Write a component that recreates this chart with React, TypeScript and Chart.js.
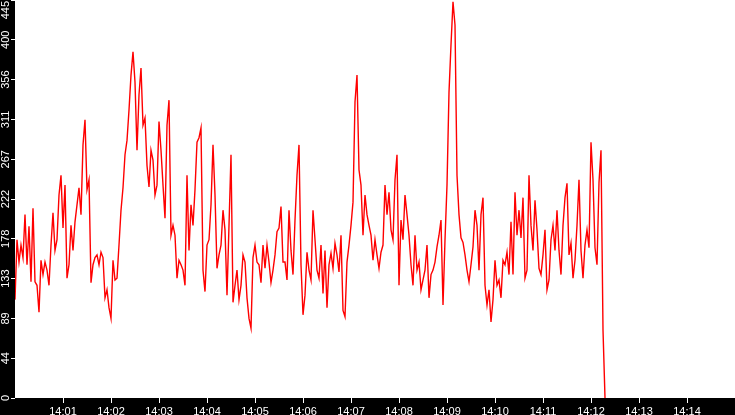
import React, { useEffect, useRef } from "react";
import { Chart, registerables } from "chart.js";

Chart.register(...registerables);

// Values sampled every 2.5 s starting at 14:00:00, one array per minute
const min00 = [110, 177, 152, 171, 157, 205, 149, 192, 130, 212, 130, 126, 96, 154, 138, 152, 143, 126, 171, 207, 165, 177, 227, 249];
const min01 = [190, 238, 134, 149, 193, 165, 197, 216, 235, 205, 283, 311, 233, 244, 129, 149, 157, 160, 149, 163, 157, 112, 121, 101];
const min02 = [89, 154, 132, 134, 171, 210, 235, 272, 288, 322, 361, 387, 353, 277, 339, 369, 305, 313, 260, 236, 277, 266, 227, 238];
const min03 = [309, 277, 238, 201, 305, 333, 182, 193, 182, 134, 154, 149, 143, 126, 249, 165, 216, 193, 233, 286, 291, 302, 143, 119];
const min04 = [171, 177, 216, 283, 227, 145, 160, 171, 210, 188, 115, 193, 272, 107, 126, 143, 110, 126, 160, 152, 112, 89, 78, 157];
const min05 = [171, 152, 149, 129, 171, 145, 171, 152, 129, 143, 160, 186, 190, 214, 152, 152, 132, 210, 165, 138, 199, 249, 283, 149];
const min06 = [93, 115, 163, 143, 132, 210, 177, 143, 134, 171, 117, 165, 101, 149, 162, 145, 173, 160, 141, 182, 98, 91, 152, 171];
const min07 = [193, 219, 331, 361, 255, 238, 182, 227, 205, 193, 182, 154, 177, 160, 145, 163, 171, 238, 205, 230, 188, 177, 244, 272];
const min08 = [126, 199, 177, 227, 205, 182, 149, 126, 182, 143, 152, 121, 132, 143, 171, 112, 138, 143, 152, 169, 182, 199, 104, 177];
const min09 = [238, 342, 395, 443, 417, 249, 205, 179, 174, 160, 143, 130, 149, 169, 210, 193, 143, 205, 224, 126, 104, 121, 85, 110];
const min10 = [154, 126, 132, 112, 154, 149, 163, 138, 197, 138, 230, 182, 210, 179, 224, 134, 143, 249, 193, 165, 221, 188, 145, 138];
const min11 = [160, 188, 121, 132, 177, 193, 165, 210, 165, 138, 193, 224, 240, 160, 173, 134, 154, 193, 244, 165, 134, 171, 188, 168];
const min12 = [286, 244, 168, 149, 241, 277, 76, 0];

const STEP_SECONDS = 2.5;
const X_MIN = 0;
const X_MAX = 900;

const xTickSeconds = [60, 120, 180, 240, 300, 360, 420, 480, 540, 600, 660, 720, 780, 840];
const xTickLabels = ["14:01", "14:02", "14:03", "14:04", "14:05", "14:06", "14:07", "14:08", "14:09", "14:10", "14:11", "14:12", "14:13", "14:14"];

const yTickValues = [0, 44.5, 89, 133.5, 178, 222.5, 267, 311.5, 356, 400.5, 445];
const yTickLabels = ["0", "44", "89", "133", "178", "222", "267", "311", "356", "400", "445"];

const series = [...min00, ...min01, ...min02, ...min03, ...min04, ...min05, ...min06, ...min07, ...min08, ...min09, ...min10, ...min11, ...min12];

const FONT = "Liberation Sans";

const bgPlugin = {
  id: "bgPlugin",
  beforeDraw(chart: any) {
    const { ctx, width, height, chartArea } = chart;
    ctx.save();
    ctx.fillStyle = "#000";
    ctx.fillRect(0, 0, width, height);
    ctx.fillStyle = "#fff";
    ctx.fillRect(chartArea.left, chartArea.top, chartArea.right - chartArea.left, chartArea.bottom - chartArea.top);
    ctx.restore();
  },
  afterDraw(chart: any) {
    const { ctx } = chart;
    const y = chart.scales.y;
    ctx.save();
    ctx.fillStyle = "#fff";
    ctx.font = `11px "${FONT}"`;
    ctx.textAlign = "center";
    ctx.textBaseline = "middle";
    yTickValues.forEach((v, i) => {
      const label = yTickLabels[i];
      const w = ctx.measureText(label).width;
      let py = y.getPixelForValue(v);
      py = Math.max(py, w / 2 + 1);
      ctx.save();
      ctx.translate(6, py);
      ctx.rotate(-Math.PI / 2);
      ctx.fillText(label, 0, 0);
      ctx.restore();
    });
    ctx.restore();
  },
};

export default function App() {
  const ref = useRef<HTMLCanvasElement | null>(null);

  useEffect(() => {
    document.body.style.margin = "0";
    const canvas = ref.current;
    if (!canvas) return;
    const data = series.map((v, i) => ({ x: i * STEP_SECONDS, y: v }));
    const chart = new Chart(canvas, {
      type: "line",
      data: {
        datasets: [
          {
            data,
            borderColor: "#ff0000",
            borderWidth: 1.4,
            pointRadius: 0,
            tension: 0,
            fill: false,
          },
        ],
      },
      options: {
        animation: false,
        responsive: true,
        maintainAspectRatio: false,
        layout: { padding: 0 },
        plugins: { legend: { display: false }, tooltip: { enabled: false } },
        scales: {
          x: {
            type: "linear",
            min: X_MIN,
            max: X_MAX,
            afterBuildTicks: (s: any) => {
              s.ticks = xTickSeconds.map((v) => ({ value: v }));
            },
            afterFit: (s: any) => {
              s.height = 17;
            },
            ticks: {
              color: "#fff",
              font: { family: FONT, size: 11 },
              padding: 2,
              maxRotation: 0,
              minRotation: 0,
              autoSkip: false,
              callback: (_v: any, i: number) => xTickLabels[i],
            },
            grid: {
              display: true,
              drawOnChartArea: false,
              drawTicks: true,
              tickLength: 5,
              color: "#fff",
              lineWidth: 1,
            },
            border: { display: false },
          },
          y: {
            type: "linear",
            min: 0,
            max: 445,
            afterBuildTicks: (s: any) => {
              s.ticks = yTickValues.map((v) => ({ value: v }));
            },
            afterFit: (s: any) => {
              s.width = 15;
            },
            ticks: { display: false },
            grid: {
              display: true,
              drawOnChartArea: false,
              drawTicks: true,
              tickLength: 4,
              color: "#fff",
              lineWidth: 1,
            },
            border: { display: false },
          },
        },
      },
      plugins: [bgPlugin],
    });
    return () => chart.destroy();
  }, []);

  return (
    <div style={{ width: 735, height: 415, position: "relative" }}>
      <canvas ref={ref} />
    </div>
  );
}
